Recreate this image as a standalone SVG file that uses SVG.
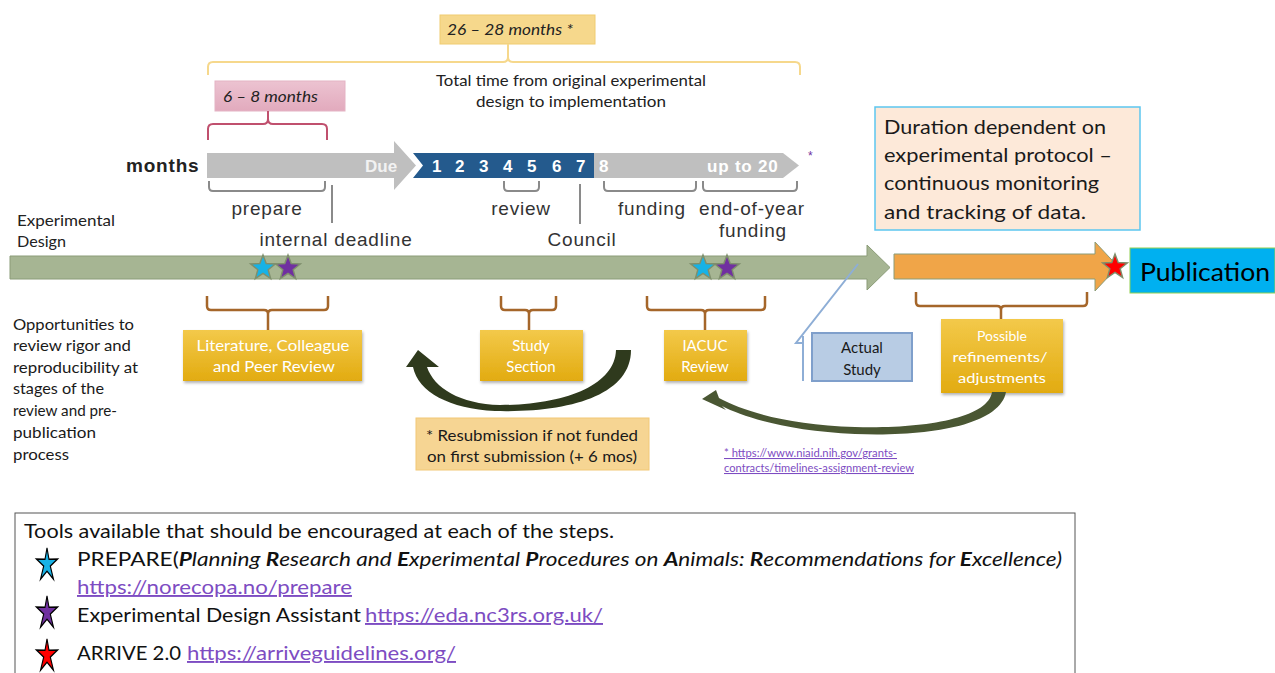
<svg xmlns="http://www.w3.org/2000/svg" width="1275" height="673" viewBox="0 0 1275 673">
<style>
.cal{font-family:Lato,"Open Sans","Liberation Sans",sans-serif;}
.ar{font-family:"Liberation Sans",Arial,sans-serif;}
.lbl{font-family:"Liberation Sans",Arial,sans-serif;font-size:19px;fill:#333;letter-spacing:0.8px;}
.num{font-family:"Liberation Sans",Arial,sans-serif;font-size:17px;font-weight:bold;fill:#fff;}
.wt{fill:#fff;font-size:15px;}
.gb{fill:none;stroke:#8a8a8a;stroke-width:2;}
.bb{fill:none;stroke:#a5662a;stroke-width:2.5;}
.ybox{fill:url(#yg);filter:url(#sh);}
.link{fill:#7d4cc2;text-decoration:underline;}
.gstar{stroke:#7f8f6c;stroke-width:0.11;}
.lstar{stroke:#000;stroke-width:0.1;}
</style>
<defs>
<linearGradient id="yg" x1="0" y1="0" x2="0" y2="1">
<stop offset="0" stop-color="#f3c94a"/><stop offset="1" stop-color="#e2ab10"/>
</linearGradient>
<linearGradient id="pg" x1="0" y1="0" x2="0" y2="1">
<stop offset="0" stop-color="#ecc3d1"/><stop offset="1" stop-color="#e2aabd"/>
</linearGradient>
<filter id="sh" x="-10%" y="-10%" width="130%" height="140%">
<feDropShadow dx="1" dy="2" stdDeviation="1.5" flood-color="#000" flood-opacity="0.3"/>
</filter>
<path id="star" d="M0,-1 L0.247,-0.34 L0.951,-0.309 L0.399,0.13 L0.588,0.809 L0,0.42 L-0.588,0.809 L-0.399,0.13 L-0.951,-0.309 L-0.247,-0.34 Z"/>
<path id="nstar" d="M0,-1 L0.18,-0.3 L0.951,-0.309 L0.3,0.13 L0.588,0.95 L0,0.45 L-0.588,0.95 L-0.3,0.13 L-0.951,-0.309 L-0.18,-0.3 Z"/>
</defs>
<rect width="1275" height="673" fill="#fff"/>

<!-- Top total time -->
<g id="total-time">
<rect x="440" y="15" width="155" height="29" fill="#f6d88c" stroke="#f0cc70"/>
<text class="cal" x="447" y="35" font-size="15" font-style="italic" fill="#222" textLength="126" lengthAdjust="spacingAndGlyphs">26 – 28 months *</text>
<path d="M208,75 L208,67 Q208,62 213,62 L503,62 Q508,62 508,57 L508,44 M508,57 Q508,62 513,62 L795,62 Q800,62 800,67 L800,75" fill="none" stroke="#f6d88c" stroke-width="2"/>
<text class="cal" x="571" y="86" font-size="15" fill="#222" text-anchor="middle" textLength="270" lengthAdjust="spacingAndGlyphs">Total time from original experimental</text>
<text class="cal" x="571" y="107" font-size="15" fill="#222" text-anchor="middle" textLength="190" lengthAdjust="spacingAndGlyphs">design to implementation</text>
</g>

<g id="prep-time">
<rect x="215" y="81" width="130" height="30" fill="url(#pg)" stroke="#e4b3c4"/>
<text class="cal" x="223" y="102" font-size="15" font-style="italic" fill="#222" textLength="95" lengthAdjust="spacingAndGlyphs">6 – 8 months</text>
<path d="M208,140 L208,129 Q208,124 213,124 L263,124 Q268,124 268,119 L268,111 M268,119 Q268,124 273,124 L322,124 Q327,124 327,129 L327,140" fill="none" stroke="#c0506e" stroke-width="2"/>
</g>

<!-- Months bar -->
<g id="months-bar">
<text class="ar" x="126" y="172" font-size="19" font-weight="bold" fill="#222" letter-spacing="0.8">months</text>
<path d="M207,153 L394,153 L394,141 L416,165.5 L394,190 L394,178 L207,178 Z" fill="#bfbfbf"/>
<text class="ar" x="365" y="172" font-size="17" font-weight="bold" fill="#f2f2f2">Due</text>
<path d="M413,153 L594,153 L594,178 L413,178 L423,165.5 Z" fill="#245a8d"/>
<text class="num" x="432" y="172">1</text>
<text class="num" x="455" y="172">2</text>
<text class="num" x="479" y="172">3</text>
<text class="num" x="503" y="172">4</text>
<text class="num" x="527" y="172">5</text>
<text class="num" x="552" y="172">6</text>
<text class="num" x="576" y="172">7</text>
<path d="M594,153 L783,153 L799,165.5 L783,178 L594,178 Z" fill="#bfbfbf"/>
<text class="num" x="599" y="172" fill="#f2f2f2">8</text>
<text class="num" x="707" y="172" fill="#f2f2f2" letter-spacing="0.8">up to 20</text>
<text class="ar" x="808" y="160" font-size="12" fill="#7030a0">*</text>
</g>

<g id="month-labels">
<path class="gb" d="M209,181 L209,187 Q209,191 213,191 L321,191 Q325,191 325,187 L325,181"/>
<line x1="332" y1="185" x2="332" y2="223" stroke="#8a8a8a" stroke-width="2"/>
<path class="gb" d="M504,181 L504,187 Q504,191 508,191 L535,191 Q539,191 539,187 L539,181"/>
<line x1="580" y1="184" x2="580" y2="224" stroke="#8a8a8a" stroke-width="2"/>
<path class="gb" d="M604,181 L604,187 Q604,191 608,191 L692,191 Q696,191 696,187 L696,181"/>
<path class="gb" d="M703,181 L703,187 Q703,191 707,191 L793,191 Q797,191 797,187 L797,181"/>
<text class="lbl" x="267" y="215" text-anchor="middle">prepare</text>
<text class="lbl" x="336" y="246" text-anchor="middle">internal deadline</text>
<text class="lbl" x="521" y="215" text-anchor="middle">review</text>
<text class="lbl" x="582" y="246" text-anchor="middle">Council</text>
<text class="lbl" x="652" y="215" text-anchor="middle">funding</text>
<text class="lbl" x="752" y="215" text-anchor="middle">end-of-year</text>
<text class="lbl" x="753" y="237" text-anchor="middle">funding</text>
</g>

<g id="experimental-design-label">
<text class="cal" x="17" y="226" font-size="15" fill="#222" textLength="98" lengthAdjust="spacingAndGlyphs">Experimental</text>
<text class="cal" x="17" y="247" font-size="15" fill="#222" textLength="49" lengthAdjust="spacingAndGlyphs">Design</text>
</g>

<!-- Main green arrow -->
<g id="design-arrow">
<path d="M10,256 L867,256 L867,245 L890,267.5 L867,290 L867,279 L10,279 Z" fill="#a6b593" stroke="#8b9c78" stroke-width="1"/>
<use href="#star" class="gstar" transform="translate(263,268) scale(13)" fill="#17b2e6"/>
<use href="#star" class="gstar" transform="translate(288,268) scale(13)" fill="#7030a0"/>
<use href="#star" class="gstar" transform="translate(703,268) scale(13)" fill="#17b2e6"/>
<use href="#star" class="gstar" transform="translate(727,268) scale(13)" fill="#7030a0"/>
</g>

<g id="study-arrow">
<path d="M894,254 L1095,254 L1095,242 L1118,266.5 L1095,291 L1095,279 L894,279 Z" fill="#f0a548" stroke="#8b9c78" stroke-width="1"/>
<use href="#star" class="gstar" transform="translate(1115,267) scale(13)" fill="#ff0000"/>
</g>

<g id="publication">
<rect x="1130" y="248" width="145" height="45" fill="#00b0f0" stroke="#92d050" stroke-width="1"/>
<text class="cal" x="1140" y="281" font-size="25" fill="#000" textLength="130" lengthAdjust="spacingAndGlyphs">Publication</text>
</g>

<g id="duration-note">
<rect x="875" y="107" width="265" height="123" fill="#fde9d9" stroke="#5cc6ef" stroke-width="1.5"/>
<text class="cal" x="884" y="134" font-size="19" fill="#1a1a1a" textLength="222" lengthAdjust="spacingAndGlyphs">Duration dependent on</text>
<text class="cal" x="884" y="162" font-size="19" fill="#1a1a1a" textLength="228" lengthAdjust="spacingAndGlyphs">experimental protocol –</text>
<text class="cal" x="884" y="190" font-size="19" fill="#1a1a1a" textLength="215" lengthAdjust="spacingAndGlyphs">continuous monitoring</text>
<text class="cal" x="884" y="219" font-size="19" fill="#1a1a1a" textLength="202" lengthAdjust="spacingAndGlyphs">and tracking of data.</text>
</g>

<!-- review opportunity boxes -->
<g id="peer-review">
<path class="bb" d="M207,296 L207,306 Q207,310 211,310 L264,310 Q268,310 268,314 L268,330 M268,314 Q268,310 272,310 L324,310 Q328,310 328,306 L328,296"/>
<rect class="ybox" x="183" y="330" width="179" height="51"/>
<text class="cal wt" x="273" y="351" text-anchor="middle" textLength="153" lengthAdjust="spacingAndGlyphs">Literature, Colleague</text>
<text class="cal wt" x="274" y="372" text-anchor="middle" textLength="122" lengthAdjust="spacingAndGlyphs">and Peer Review</text>
</g>

<g id="study-section">
<path class="bb" d="M501,296 L501,306 Q501,310 505,310 L525,310 Q529,310 529,314 L529,330 M529,314 Q529,310 533,310 L552,310 Q556,310 556,306 L556,296"/>
<rect class="ybox" x="480" y="330" width="103" height="51"/>
<text class="cal wt" x="531" y="351" text-anchor="middle">Study</text>
<text class="cal wt" x="531" y="372" text-anchor="middle">Section</text>
</g>

<g id="iacuc-review">
<path class="bb" d="M647,296 L647,306 Q647,310 651,310 L701,310 Q705,310 705,314 L705,330 M705,314 Q705,310 709,310 L761,310 Q765,310 765,306 L765,296"/>
<rect class="ybox" x="664" y="330" width="83" height="51"/>
<text class="cal wt" x="705" y="351" text-anchor="middle">IACUC</text>
<text class="cal wt" x="705" y="372" text-anchor="middle">Review</text>
</g>

<g id="actual-study">
<path d="M803,381 L803,336 M858,264 L796,343 L803,343" fill="none" stroke="#8eaed6" stroke-width="2"/>
<rect x="812" y="333" width="100" height="48" fill="#b8cce4" stroke="#7f9fcb" stroke-width="2"/>
<text class="cal" x="862" y="353" font-size="15" fill="#1a1a1a" text-anchor="middle">Actual</text>
<text class="cal" x="862" y="375" font-size="15" fill="#1a1a1a" text-anchor="middle">Study</text>
</g>

<g id="refinements">
<path class="bb" d="M916,292 L916,302 Q916,306 920,306 L997,306 Q1001,306 1001,310 L1001,319 M1001,310 Q1001,306 1005,306 L1083,306 Q1087,306 1087,302 L1087,292"/>
<rect class="ybox" x="941" y="319" width="122" height="74"/>
<text class="cal wt" x="1002" y="341" text-anchor="middle" style="font-size:14px">Possible</text>
<text class="cal wt" x="1000" y="362" text-anchor="middle" style="font-size:14px" textLength="95" lengthAdjust="spacingAndGlyphs">refinements/</text>
<text class="cal wt" x="1002" y="383" text-anchor="middle" style="font-size:14px" textLength="88" lengthAdjust="spacingAndGlyphs">adjustments</text>
</g>

<!-- curved feedback arrows -->
<g id="connectors">
<path d="M631,350 C631,395 570,413 495,411 C450,409 418,392 413,367 L406,367 L418,350 L439,367 L427,367 C434,388 460,404 500,405 C565,405 615,385 616,350 Z" fill="#2f3a1d"/>
<path d="M1006,392 C1000,425 930,437 855,434 C790,431 745,418 722,406 L726,410 L702,399 L716,390 L719,398 C745,412 790,425 855,427 C925,429 988,418 992,392 Z" fill="#4a5733"/>
</g>

<g id="resubmission-note">
<rect x="416" y="418" width="233" height="52" fill="#f6d593" stroke="#f2c877"/>
<text class="cal" x="426" y="441" font-size="16" fill="#1a1a1a" textLength="212" lengthAdjust="spacingAndGlyphs">* Resubmission if not funded</text>
<text class="cal" x="427" y="462" font-size="16" fill="#1a1a1a" textLength="210" lengthAdjust="spacingAndGlyphs">on first submission (+ 6 mos)</text>
</g>

<g id="niaid-link">
<text class="cal link" x="724" y="457" font-size="10.5" textLength="173" lengthAdjust="spacingAndGlyphs">* https://www.niaid.nih.gov/grants-</text>
<text class="cal link" x="724" y="472" font-size="10.5" textLength="190" lengthAdjust="spacingAndGlyphs">contracts/timelines-assignment-review</text>
</g>

<g id="opportunities-label">
<text class="cal" x="13" y="330" font-size="15" fill="#1a1a1a" textLength="121" lengthAdjust="spacingAndGlyphs">Opportunities to</text>
<text class="cal" x="13" y="351" font-size="15" fill="#1a1a1a" textLength="118" lengthAdjust="spacingAndGlyphs">review rigor and</text>
<text class="cal" x="13" y="373" font-size="15" fill="#1a1a1a" textLength="125" lengthAdjust="spacingAndGlyphs">reproducibility at</text>
<text class="cal" x="13" y="394" font-size="15" fill="#1a1a1a" textLength="91" lengthAdjust="spacingAndGlyphs">stages of the</text>
<text class="cal" x="13" y="416" font-size="15" fill="#1a1a1a" textLength="104" lengthAdjust="spacingAndGlyphs">review and pre-</text>
<text class="cal" x="13" y="438" font-size="15" fill="#1a1a1a" textLength="83" lengthAdjust="spacingAndGlyphs">publication</text>
<text class="cal" x="13" y="460" font-size="15" fill="#1a1a1a" textLength="56" lengthAdjust="spacingAndGlyphs">process</text>
</g>

<!-- Tools legend -->
<g id="tools-legend">
<rect x="15" y="513" width="1060" height="170" fill="#fff" stroke="#555" stroke-width="1"/>
<text class="cal" x="24" y="538" font-size="19" fill="#111" textLength="590" lengthAdjust="spacingAndGlyphs">Tools available that should be encouraged at each of the steps.</text>
<use href="#nstar" class="lstar" transform="translate(47,564) scale(11,16)" fill="#17b2e6"/>
<text class="cal" x="77" y="566" font-size="19" fill="#111" textLength="985" lengthAdjust="spacingAndGlyphs">PREPARE(<tspan font-style="italic"><tspan font-weight="bold">P</tspan>lanning <tspan font-weight="bold">R</tspan>esearch and <tspan font-weight="bold">E</tspan>xperimental <tspan font-weight="bold">P</tspan>rocedures on <tspan font-weight="bold">A</tspan>nimals: <tspan font-weight="bold">R</tspan>ecommendations for <tspan font-weight="bold">E</tspan>xcellence)</tspan></text>
<text class="cal link" x="77" y="594" font-size="19" textLength="275" lengthAdjust="spacingAndGlyphs">https://norecopa.no/prepare</text>
<use href="#nstar" class="lstar" transform="translate(47,612) scale(11,16)" fill="#7030a0"/>
<text class="cal" x="77" y="622" font-size="19" fill="#111" textLength="284" lengthAdjust="spacingAndGlyphs">Experimental Design Assistant</text>
<text class="cal link" x="365" y="622" font-size="19" textLength="238" lengthAdjust="spacingAndGlyphs">https://eda.nc3rs.org.uk/</text>
<use href="#nstar" class="lstar" transform="translate(47,655) scale(11,16)" fill="#ff0000"/>
<text class="cal" x="77" y="660" font-size="19" fill="#111" textLength="104" lengthAdjust="spacingAndGlyphs">ARRIVE 2.0</text>
<text class="cal link" x="187" y="660" font-size="19" textLength="269" lengthAdjust="spacingAndGlyphs">https://arriveguidelines.org/</text>
</g>
</svg>
